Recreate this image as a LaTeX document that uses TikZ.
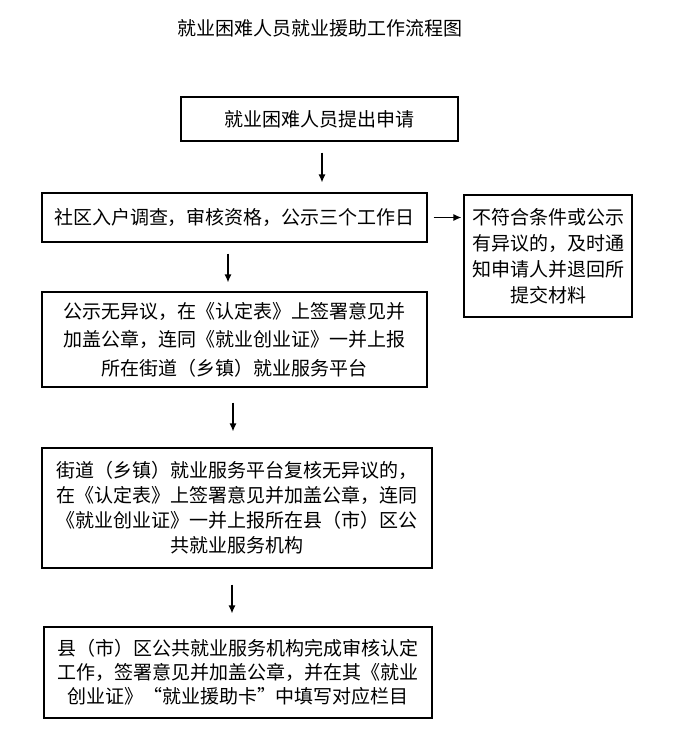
\documentclass[tikz,border=0pt]{standalone}
\usepackage{fontspec}
\setmainfont{Noto Sans CJK SC}
\usetikzlibrary{arrows.meta,positioning}
\tikzset{
  box/.style={draw,line width=1.2pt,align=center,inner sep=0pt,
    font=\fontsize{19}{25}\selectfont},
  arr/.style={-{Latex[length=8pt,width=7pt]},line width=1.2pt}
}
\begin{document}
\begin{tikzpicture}[x=1pt,y=-1pt]
        \useasboundingbox (0,0) rectangle (687,753);
        \node (title) at (320,28) {\fontsize{19}{19}\selectfont 就业困难人员就业援助工作流程图};
        \node[box,minimum width=277,minimum height=44] (apply) at (319.5,119) {就业困难人员提出申请};
        \node[box,minimum width=385,minimum height=49] (survey) at (234.5,217.5) {社区入户调查，审核资格，公示三个工作日};
        \node[box,minimum width=168,minimum height=122,font=\fontsize{19}{26}\selectfont] (reject) at (548,256)
            {不符合条件或公示\\有异议的，及时通\\知申请人并退回所\\提交材料};
        \node[box,minimum width=385,minimum height=95,font=\fontsize{19}{28.5}\selectfont] (report) at (234.5,339.5)
            {公示无异议，在《认定表》上签署意见并\\加盖公章，连同《就业创业证》一并上报\\所在街道（乡镇）就业服务平台};
        \node[box,minimum width=390,minimum height=120] (street) at (237,508)
            {街道（乡镇）就业服务平台复核无异议的，\\在《认定表》上签署意见并加盖公章，连同\\《就业创业证》一并上报所在县（市）区公\\共就业服务机构};
        \node[box,minimum width=388,minimum height=91,font=\fontsize{19}{24}\selectfont] (county) at (238,672.5)
            {县（市）区公共就业服务机构完成审核认定\\工作，签署意见并加盖公章，并在其《就业\\创业证》“就业援助卡”中填写对应栏目};
        \draw[arr] ([xshift=2.5pt,yshift=-11pt]apply.south) -- ([xshift=2.5pt,yshift=10pt]apply.south |- survey.north);
        \draw[arr] ([xshift=6pt]survey.east) -- ([xshift=-2pt]survey.east -| reject.west);
        \draw[arr] ([xshift=-6.5pt,yshift=-11pt]survey.south) -- ([xshift=-6.5pt,yshift=9pt]survey.south |- report.north);
        \draw[arr] ([xshift=-1.5pt,yshift=-15pt]report.south) -- ([xshift=-1.5pt,yshift=16pt]report.south |- street.north);
        \draw[arr] ([xshift=-5pt,yshift=-16pt]street.south) -- ([xshift=-5pt,yshift=13pt]street.south |- county.north);
\end{tikzpicture}
\end{document}
